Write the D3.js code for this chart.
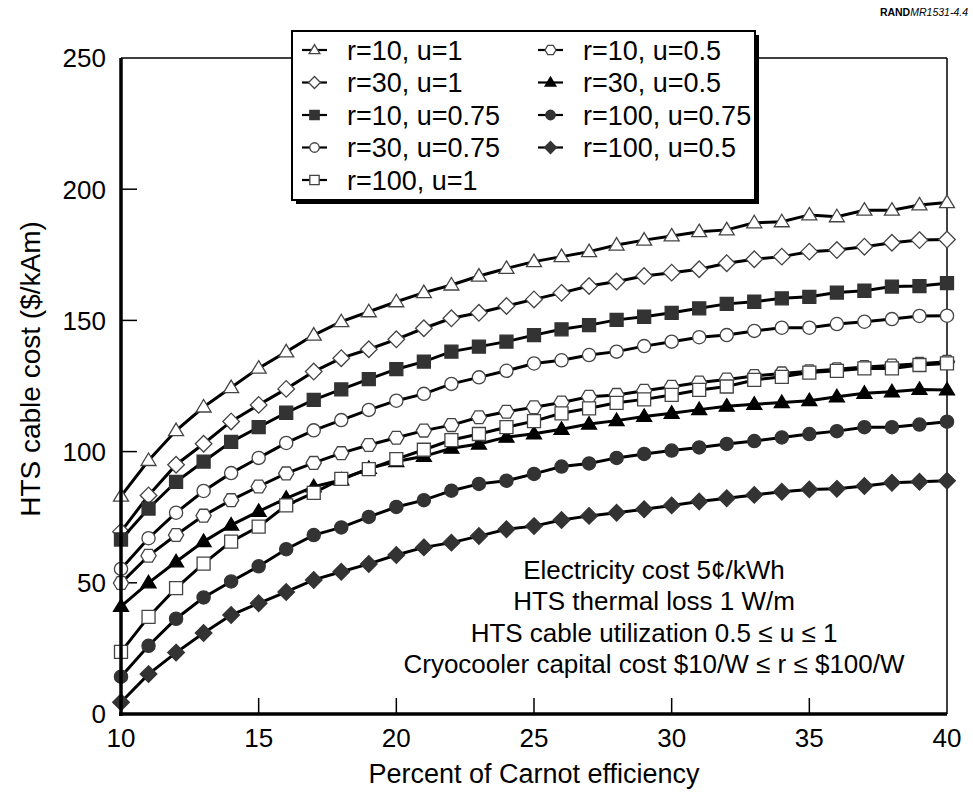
<!DOCTYPE html>
<html>
<head>
<meta charset="utf-8">
<script src="https://cdn.jsdelivr.net/npm/d3@7"></script>
<style>
  body { margin: 0; background: #fff; }
  svg { display: block; font-family: "Liberation Sans", Arial, Helvetica, sans-serif; }
</style>
</head>
<body>
<div id="chart"></div>
<script>
"use strict";

// Percent of Carnot efficiency (x)
const percent = [10, 11, 12, 13, 14, 15, 16, 17, 18, 19, 20, 21, 22, 23, 24, 25,
    26, 27, 28, 29, 30, 31, 32, 33, 34, 35, 36, 37, 38, 39, 40];

// HTS cable cost ($/kAm)
const r10u1 = [83, 96.6, 108, 117, 124.4, 131.8, 138, 144.4, 149.5, 153.3, 157.1, 160.6, 163.5, 166.9, 169.8, 172.4,
    174.3, 176.2, 178.7, 180.6, 182.2, 183.8, 184.5, 187.2, 187.6, 190.2, 189.5, 192, 192, 194, 194.9];
const r30u1 = [69.5, 83.3, 95, 103, 111.5, 117.8, 123.9, 130.5, 135.6, 139, 142.8, 147, 150.8, 152.9, 155.5, 158,
    160.5, 163.1, 164.8, 166.9, 168.2, 169.5, 171.8, 173.3, 174.3, 176.2, 176.8, 178.1, 179.6, 180.6, 180.8];
const r10u075 = [66.5, 78.3, 88.5, 96.2, 103.7, 109.3, 114.8, 119.7, 123.7, 127.6, 131.4, 134.3, 138.1, 140, 141.9, 144.4,
    146.6, 148.2, 150.2, 151.4, 152.9, 154.6, 156.3, 157.1, 158.4, 159, 160.6, 161.3, 162.9, 163.1, 164.2];
const r30u075 = [55.3, 67, 76.7, 85, 91.8, 97.6, 103.3, 108.1, 112, 115.9, 119.4, 122, 125.8, 128.3, 130.8, 133.6,
    134.8, 136.8, 138.1, 140.2, 141.9, 143.6, 144.4, 146, 147.2, 147.2, 148.6, 149.5, 150.5, 151.7, 151.8];
const r100u1 = [23.7, 37, 48, 57.3, 65.7, 71.4, 79.5, 84.3, 89.6, 93.3, 97.1, 100.7, 104.4, 106.7, 109.3, 111.6,
    114.6, 116.5, 118.6, 119.9, 121.6, 123.5, 124.8, 127.3, 128.5, 130.1, 130.8, 131.7, 131.7, 133, 133.6];
const r10u05 = [49.9, 60.3, 68.2, 75.6, 81.5, 86.7, 91.7, 95.7, 99.4, 102.5, 105.3, 108, 110.1, 113.1, 115.2, 116.9,
    118.7, 120.9, 121.6, 123.2, 124.7, 126.3, 127.5, 128.8, 129.8, 130.6, 131.4, 132.2, 132.8, 133.5, 134.2];
const r30u05 = [41, 50, 58, 65.7, 72, 77.2, 82.2, 86.6, 89.2, 93.6, 96.2, 98.2, 101.3, 102.9, 105.5, 106.8,
    108.5, 110.5, 111.8, 113.4, 114.6, 116, 117.3, 118, 118.7, 119.4, 120.9, 122.2, 122.8, 123.7, 123.5];
const r100u075 = [14.2, 26, 36.3, 44.4, 50.5, 56.3, 62.8, 68.2, 71.1, 75.1, 78.9, 81.5, 85.1, 87.7, 88.9, 91.5,
    94.3, 95.5, 97.6, 99.1, 100.4, 101.6, 102.9, 104, 105.4, 106.7, 107.8, 109.3, 109.3, 110.3, 111.4];
const r100u05 = [4.5, 15.2, 23.4, 30.9, 37.7, 42.2, 46.5, 51.1, 54.2, 57.2, 60.6, 63.5, 65.3, 67.8, 70.4, 71.6,
    73.9, 75.5, 76.7, 78, 79.5, 81, 82.2, 83.5, 84.7, 85.6, 85.8, 86.9, 88.1, 88.5, 88.9];

const yTicks = [0, 50, 100, 150, 200, 250];
const xTicks = [10, 15, 20, 25, 30, 35, 40];

const notes = [
    "Electricity cost 5\u00a2/kWh",
    "HTS thermal loss 1 W/m",
    "HTS cable utilization 0.5 \u2264 u \u2264 1",
    "Cryocooler capital cost $10/W \u2264 r \u2264 $100/W"
];

// series: label, values, marker, filled
const series = [
    { label: "r=10, u=1", values: r10u1, marker: "triangle", filled: false },
    { label: "r=30, u=1", values: r30u1, marker: "diamond", filled: false },
    { label: "r=10, u=0.75", values: r10u075, marker: "square", filled: true },
    { label: "r=30, u=0.75", values: r30u075, marker: "circle", filled: false },
    { label: "r=100, u=1", values: r100u1, marker: "square", filled: false },
    { label: "r=10, u=0.5", values: r10u05, marker: "hexagon", filled: false },
    { label: "r=30, u=0.5", values: r30u05, marker: "triangle", filled: true },
    { label: "r=100, u=0.75", values: r100u075, marker: "circle", filled: true },
    { label: "r=100, u=0.5", values: r100u05, marker: "diamond", filled: true }
];
// drawing order, open squares end up on top
const drawOrder = [0, 1, 2, 3, 5, 6, 7, 8, 4];
const legendCols = [[0, 1, 2, 3, 4], [5, 6, 7, 8]];

const width = 973, height = 792;
const margin = { top: 58, right: 26, bottom: 78, left: 121 };

const svg = d3.select("#chart").append("svg")
    .attr("width", width)
    .attr("height", height);

const x = d3.scaleLinear()
    .domain([10, 40])
    .range([margin.left, width - margin.right]);

const y = d3.scaleLinear()
    .domain([0, 250])
    .range([height - margin.bottom, margin.top]);

function markerPath(type, k) {
    if (type === "circle") {
        const r = 6.6 * k;
        const p = d3.path();
        p.moveTo(r, 0);
        p.arc(0, 0, r, 0, 2 * Math.PI);
        p.closePath();
        return p.toString();
    }
    let pts;
    if (type === "triangle") pts = [[0, -7.5], [7.5, 5], [-7.5, 5]];
    else if (type === "square") pts = [[-6.5, -6.5], [6.5, -6.5], [6.5, 6.5], [-6.5, 6.5]];
    else if (type === "diamond") pts = [[0, -8.3], [8.3, 0], [0, 8.3], [-8.3, 0]];
    else pts = [[-7.6, 0], [-3.8, -6.4], [3.8, -6.4], [7.6, 0], [3.8, 6.4], [-3.8, 6.4]];
    return "M" + pts.map(p => (p[0] * k).toFixed(2) + "," + (p[1] * k).toFixed(2)).join("L") + "Z";
}

function styleMarker(sel, s) {
    sel.attr("fill", s.filled ? (s.marker === "triangle" ? "#000" : "#333") : "#fff")
        .attr("stroke", s.filled ? (s.marker === "triangle" ? "#000" : "#333") : "#444")
        .attr("stroke-width", 1.3);
}

// frame: thin top and right
svg.append("line")
    .attr("x1", x(10)).attr("x2", x(40))
    .attr("y1", y(250)).attr("y2", y(250))
    .attr("stroke", "#000").attr("stroke-width", 1.5);
svg.append("line")
    .attr("x1", x(40)).attr("x2", x(40))
    .attr("y1", y(250)).attr("y2", y(0))
    .attr("stroke", "#000").attr("stroke-width", 1.5);

// ticks
svg.append("g")
    .selectAll("line")
    .data(yTicks.filter(d => d > 0 && d < 250))
    .join("line")
    .attr("x1", x(10)).attr("x2", x(10) + 16)
    .attr("y1", d => y(d)).attr("y2", d => y(d))
    .attr("stroke", "#000").attr("stroke-width", 1.5);

svg.append("g")
    .selectAll("line")
    .data(xTicks.filter(d => d > 10 && d < 40))
    .join("line")
    .attr("x1", d => x(d)).attr("x2", d => x(d))
    .attr("y1", y(0)).attr("y2", y(0) - 16)
    .attr("stroke", "#000").attr("stroke-width", 1.5);

// tick labels
svg.append("g")
    .selectAll("text")
    .data(yTicks)
    .join("text")
    .attr("x", x(10) - 15)
    .attr("y", d => y(d))
    .attr("dy", "0.36em")
    .attr("text-anchor", "end")
    .attr("font-size", 26)
    .text(d => d);

svg.append("g")
    .selectAll("text")
    .data(xTicks)
    .join("text")
    .attr("x", d => x(d))
    .attr("y", y(0) + 33)
    .attr("text-anchor", "middle")
    .attr("font-size", 26)
    .text(d => d);

// axis titles
svg.append("text")
    .attr("x", (x(10) + x(40)) / 2)
    .attr("y", 783)
    .attr("text-anchor", "middle")
    .attr("font-size", 27)
    .text("Percent of Carnot efficiency");

svg.append("text")
    .attr("transform", "translate(40," + ((y(0) + y(250)) / 2 - 17) + ") rotate(-90)")
    .attr("text-anchor", "middle")
    .attr("font-size", 28)
    .text("HTS cable cost ($/kAm)");

// notes
svg.append("g")
    .selectAll("text")
    .data(notes)
    .join("text")
    .attr("x", 654)
    .attr("y", (d, i) => 579 + i * 31.3)
    .attr("text-anchor", "middle")
    .attr("font-size", 26)
    .text(d => d);

// series
const line = d3.line()
    .x((d, i) => x(percent[i]))
    .y(d => y(d));

drawOrder.forEach(idx => {
    const s = series[idx];
    const g = svg.append("g");
    g.append("path")
        .attr("d", line(s.values))
        .attr("fill", "none")
        .attr("stroke", "#000")
        .attr("stroke-width", 3);
    g.selectAll("path.m")
        .data(s.values)
        .join("path")
        .attr("class", "m")
        .attr("d", markerPath(s.marker, 1))
        .attr("transform", (d, i) => "translate(" + x(percent[i]) + "," + y(d) + ")")
        .call(styleMarker, s);
});

// thick left and bottom axes
svg.append("line")
    .attr("x1", x(10)).attr("x2", x(10))
    .attr("y1", y(250)).attr("y2", y(0) + 2)
    .attr("stroke", "#000").attr("stroke-width", 3.5);
svg.append("line")
    .attr("x1", x(10) - 2).attr("x2", x(40))
    .attr("y1", y(0)).attr("y2", y(0))
    .attr("stroke", "#000").attr("stroke-width", 3.5);

// legend
const lgX = 292, lgY = 31, lgW = 463, lgH = 169;
svg.append("rect")
    .attr("x", lgX + 4).attr("y", lgY + 4)
    .attr("width", lgW).attr("height", lgH)
    .attr("fill", "#000");
svg.append("rect")
    .attr("x", lgX).attr("y", lgY)
    .attr("width", lgW).attr("height", lgH)
    .attr("fill", "#fff")
    .attr("stroke", "#000")
    .attr("stroke-width", 2);

const colX = [302, 538];
legendCols.forEach((col, c) => {
    col.forEach((idx, r) => {
        const s = series[idx];
        const ly = 50 + r * 32.5;
        const g = svg.append("g").attr("transform", "translate(" + colX[c] + "," + ly + ")");
        g.append("line")
            .attr("x1", 0).attr("x2", 25)
            .attr("stroke", "#000").attr("stroke-width", 2.2);
        g.append("path")
            .attr("d", markerPath(s.marker, 0.72))
            .attr("transform", "translate(12.5,0)")
            .call(styleMarker, s);
        g.append("text")
            .attr("x", 45)
            .attr("dy", "0.36em")
            .attr("font-size", 27)
            .text(s.label);
    });
});

// source tag
const tag = svg.append("text")
    .attr("x", 968)
    .attr("y", 16)
    .attr("text-anchor", "end")
    .attr("font-size", 10.5);
tag.append("tspan").attr("font-weight", "bold").text("RAND");
tag.append("tspan").attr("font-style", "italic").text("MR1531-4.4");
</script>
</body>
</html>
